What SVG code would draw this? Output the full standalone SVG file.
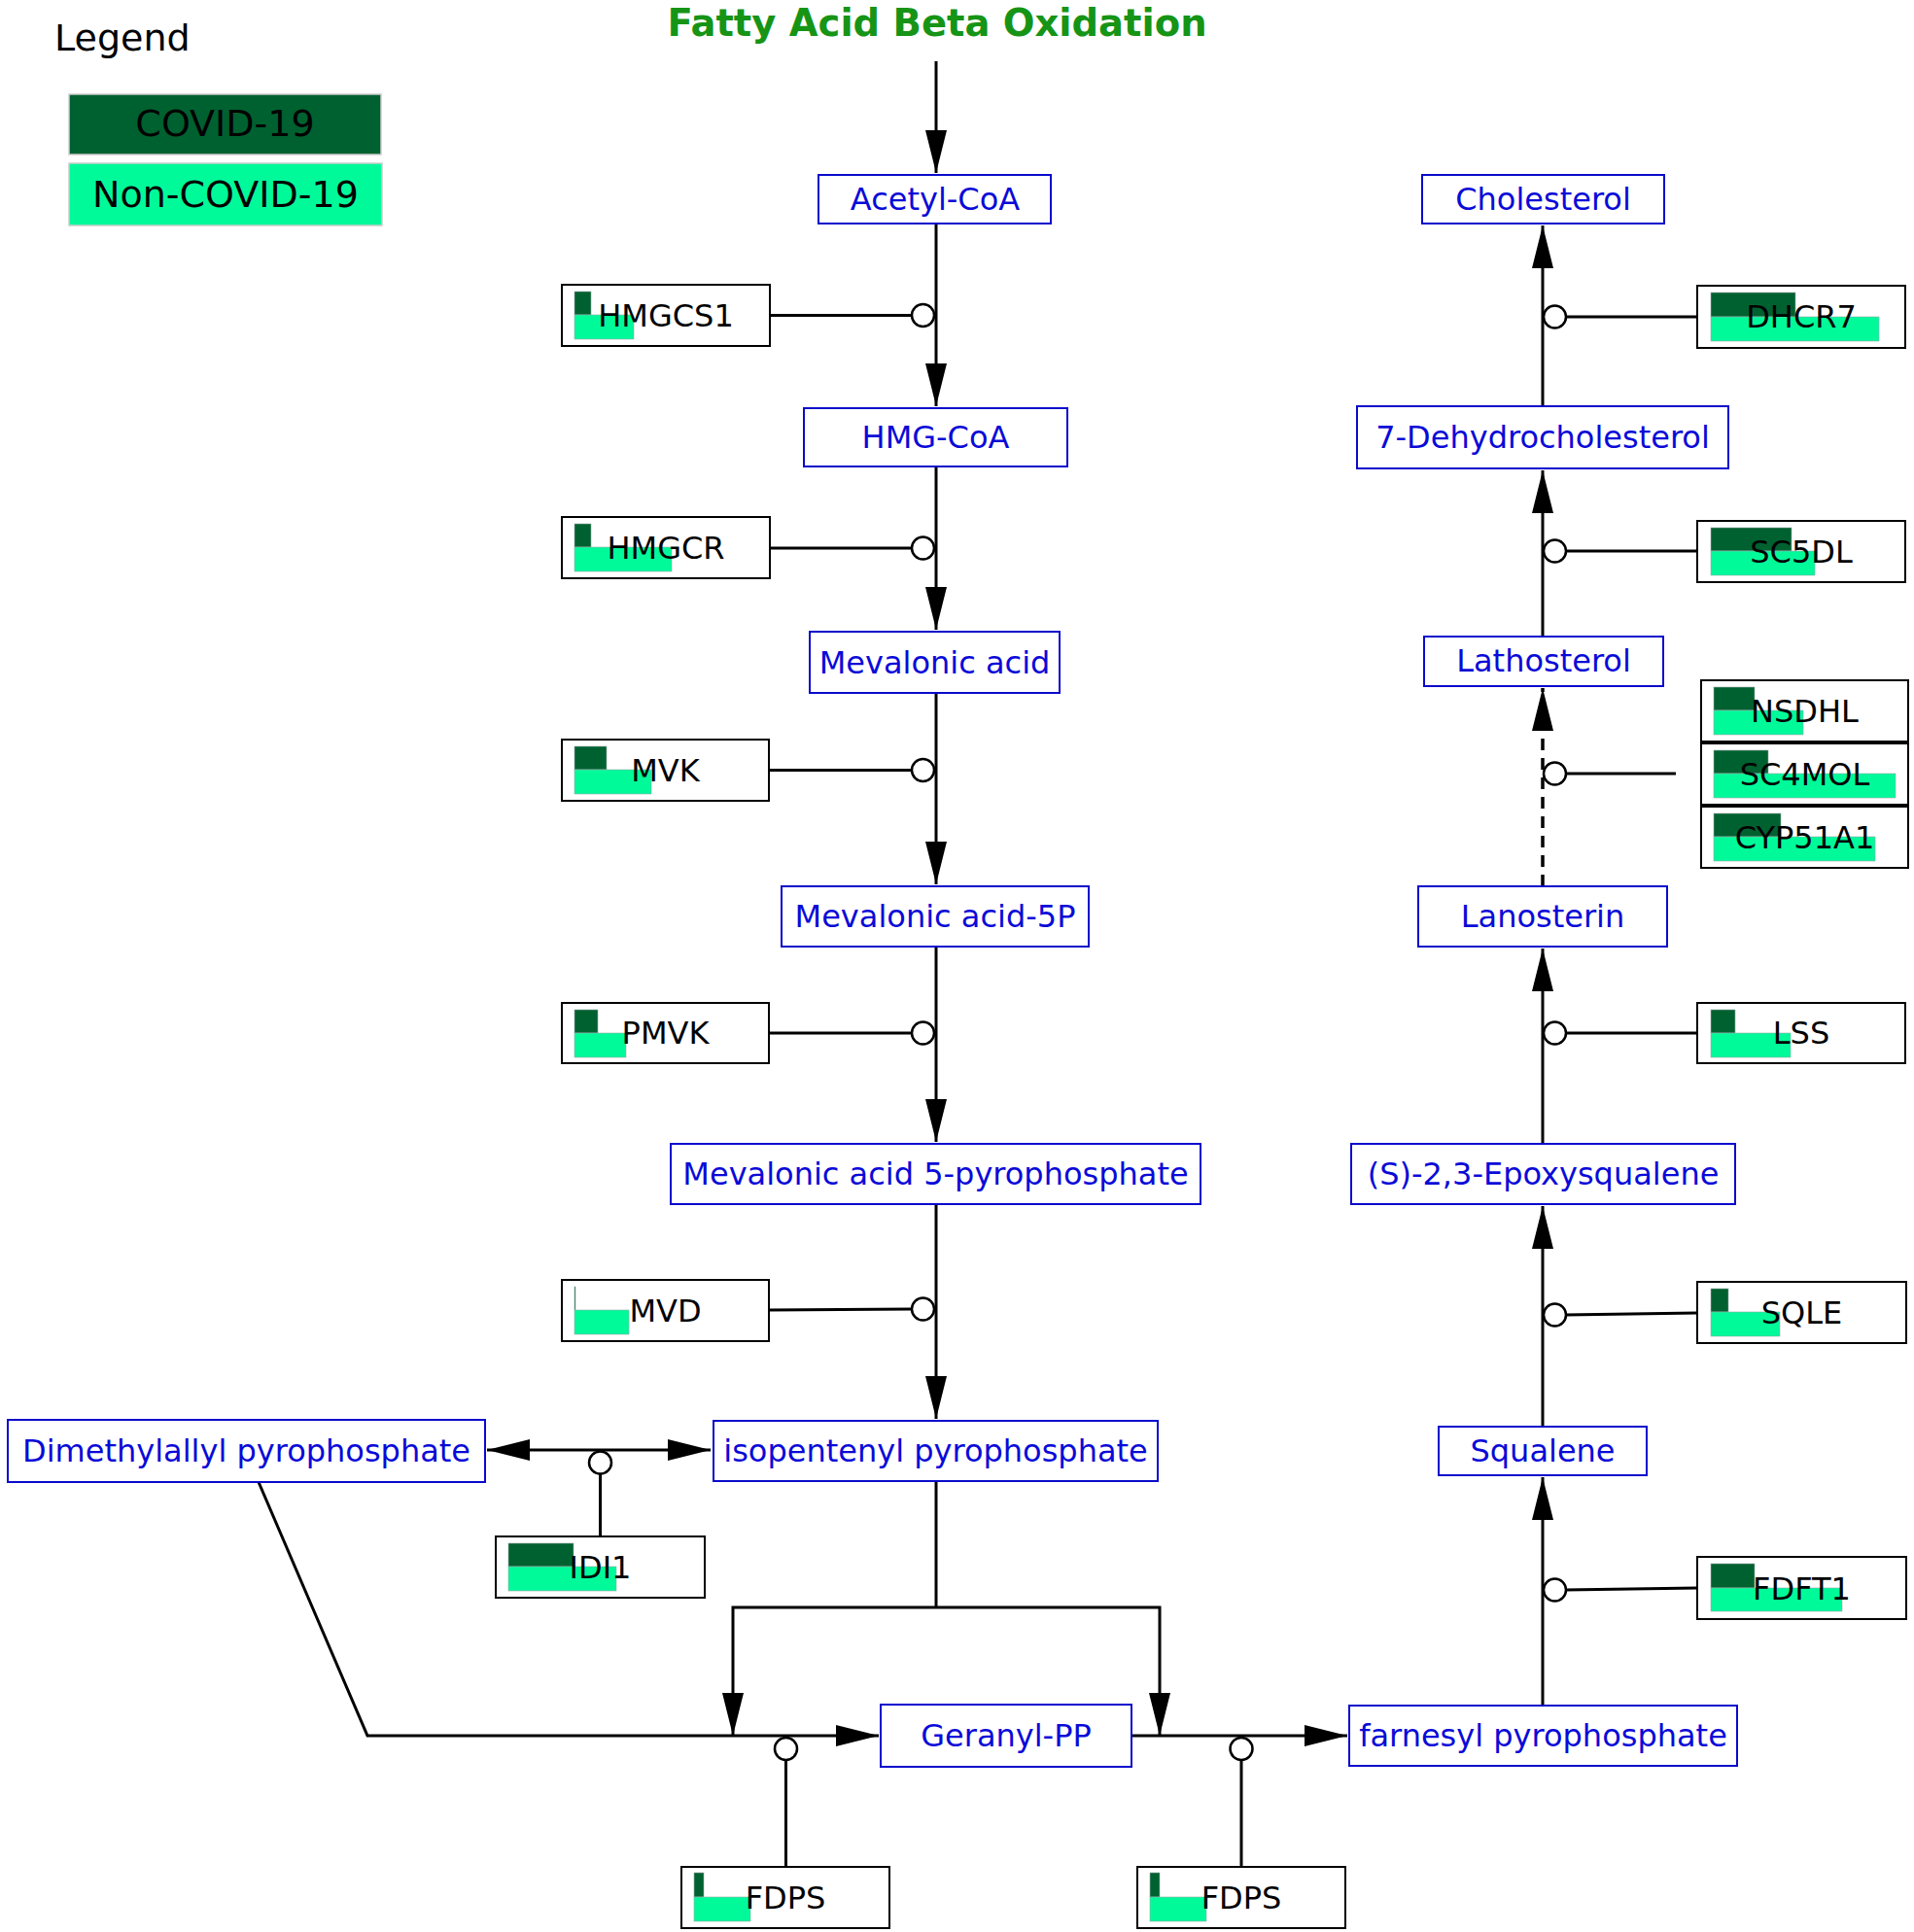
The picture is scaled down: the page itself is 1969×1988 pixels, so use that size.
<svg xmlns="http://www.w3.org/2000/svg" width="1969" height="1988" viewBox="0 0 1969 1988">
<style>
text{font-family:"DejaVu Sans","Liberation Sans",sans-serif}
.title{font-size:38.5px;font-weight:bold;fill:#169416;text-anchor:middle}
.leg{font-size:38px;fill:#000}
.legc{font-size:38px;fill:#000;text-anchor:middle}
.met rect{fill:#fff;stroke:#0a0acc;stroke-width:2}
.met text{font-size:32px;fill:#0a0ad8;text-anchor:middle}
.gene rect.b{fill:#fff;stroke:#000;stroke-width:2}
.gene text{font-size:32px;fill:#000;text-anchor:middle}
.d{fill:#006130;stroke:#9aa;stroke-width:0.6}
.l{fill:#00fa9a;stroke:#9aa;stroke-width:0.6}
.c{fill:none;stroke:#000;stroke-width:3}
.dash{stroke-dasharray:12,8;stroke-width:3.5}
.cat{fill:#fff;stroke:#000;stroke-width:2.5}
</style>
<defs>
<marker id="ah" markerUnits="userSpaceOnUse" markerWidth="44" markerHeight="22" refX="44" refY="11" orient="auto-start-reverse" viewBox="0 0 44 22">
<path d="M0,0 L44,11 L0,22 z" fill="#000"/>
</marker>
</defs>
<rect x="0" y="0" width="1969" height="1988" fill="#fff"/>
<text class="title" x="964" y="37">Fatty Acid Beta Oxidation</text>
<g id="legend">
<text class="leg" x="56" y="52">Legend</text>
<rect x="71" y="97" width="321" height="62" fill="#006130" stroke="#ccc" stroke-width="1.5"/>
<text class="legc" x="231.5" y="140">COVID-19</text>
<rect x="71" y="168" width="322" height="64" fill="#00fa9a" stroke="#ccc" stroke-width="1.5"/>
<text class="legc" x="232" y="213">Non-COVID-19</text>
</g>
<g id="connectors">
<path class="c" d="M963,63 L963,178" marker-end="url(#ah)"/>
<path class="c" d="M963,230 L963,418" marker-end="url(#ah)"/>
<path class="c" d="M963,480 L963,648" marker-end="url(#ah)"/>
<path class="c" d="M963,713 L963,910" marker-end="url(#ah)"/>
<path class="c" d="M963,974 L963,1175" marker-end="url(#ah)"/>
<path class="c" d="M963,1239 L963,1460" marker-end="url(#ah)"/>
<path class="c" d="M963,1524 L963,1654"/>
<path class="c" d="M963,1654 L754,1654 L754,1786" marker-end="url(#ah)"/>
<path class="c" d="M963,1654 L1193,1654 L1193,1786" marker-end="url(#ah)"/>
<path class="c" d="M266,1525 L378,1786 L904,1786" marker-end="url(#ah)"/>
<path class="c" d="M1164,1786 L1386,1786" marker-end="url(#ah)"/>
<path class="c" d="M501,1492 L731,1492" marker-start="url(#ah)" marker-end="url(#ah)"/>
<path class="c" d="M1587,1755 L1587,1520" marker-end="url(#ah)"/>
<path class="c" d="M1587,1468 L1587,1241" marker-end="url(#ah)"/>
<path class="c" d="M1587,1177 L1587,976" marker-end="url(#ah)"/>
<path class="c dash" d="M1587,912 L1587,708" marker-end="url(#ah)"/>
<path class="c" d="M1587,655 L1587,484" marker-end="url(#ah)"/>
<path class="c" d="M1587,418 L1587,232" marker-end="url(#ah)"/>
<path class="c" d="M792,324.5 L938,324.5"/>
<path class="c" d="M792,564 L938,564"/>
<path class="c" d="M791,792.5 L938,792.5"/>
<path class="c" d="M791,1063 L938,1063"/>
<path class="c" d="M791,1348 L938,1347"/>
<path class="c" d="M1610,326 L1746,326"/>
<path class="c" d="M1610,567 L1746,567"/>
<path class="c" d="M1610,796 L1724,796"/>
<path class="c" d="M1610,1063 L1746,1063"/>
<path class="c" d="M1610,1353 L1746,1351"/>
<path class="c" d="M1610,1636 L1746,1634"/>
<path class="c" d="M617.5,1516 L617.5,1581"/>
<path class="c" d="M808.5,1811 L808.5,1921"/>
<path class="c" d="M1277,1811 L1277,1921"/>
<circle class="cat" cx="949.5" cy="324.5" r="11.5"/>
<circle class="cat" cx="949.5" cy="564" r="11.5"/>
<circle class="cat" cx="949.5" cy="792.5" r="11.5"/>
<circle class="cat" cx="949.5" cy="1063" r="11.5"/>
<circle class="cat" cx="949.5" cy="1347" r="11.5"/>
<circle class="cat" cx="1599.5" cy="326" r="11.5"/>
<circle class="cat" cx="1599.5" cy="567" r="11.5"/>
<circle class="cat" cx="1599.5" cy="796" r="11.5"/>
<circle class="cat" cx="1599.5" cy="1063" r="11.5"/>
<circle class="cat" cx="1599.5" cy="1353" r="11.5"/>
<circle class="cat" cx="1599.5" cy="1636" r="11.5"/>
<circle class="cat" cx="617.5" cy="1505" r="11.5"/>
<circle class="cat" cx="808.5" cy="1799.5" r="11.5"/>
<circle class="cat" cx="1277" cy="1799.5" r="11.5"/>
</g>
<g id="m-acetylcoa" class="met"><rect x="842" y="180" width="239" height="50"/><text x="962" y="216">Acetyl-CoA</text></g>
<g id="m-hmgcoa" class="met"><rect x="827" y="420" width="271" height="60"/><text x="962.5" y="461">HMG-CoA</text></g>
<g id="m-mevalonic" class="met"><rect x="833" y="650" width="257" height="63"/><text x="961.5" y="693">Mevalonic acid</text></g>
<g id="m-mev5p" class="met"><rect x="804" y="912" width="316" height="62"/><text x="962" y="954">Mevalonic acid-5P</text></g>
<g id="m-mev5pp" class="met"><rect x="690" y="1177" width="545" height="62"/><text x="962.5" y="1219">Mevalonic acid 5-pyrophosphate</text></g>
<g id="m-ipp" class="met"><rect x="734" y="1462" width="457" height="62"/><text x="962.5" y="1504">isopentenyl pyrophosphate</text></g>
<g id="m-dmapp" class="met"><rect x="8" y="1461" width="491" height="64"/><text x="253.5" y="1504">Dimethylallyl pyrophosphate</text></g>
<g id="m-geranylpp" class="met"><rect x="906" y="1754" width="258" height="64"/><text x="1035" y="1797">Geranyl-PP</text></g>
<g id="m-fpp" class="met"><rect x="1388" y="1755" width="399" height="62"/><text x="1587.5" y="1797">farnesyl pyrophosphate</text></g>
<g id="m-cholesterol" class="met"><rect x="1463" y="180" width="249" height="50"/><text x="1587.5" y="216">Cholesterol</text></g>
<g id="m-7dhc" class="met"><rect x="1396" y="418" width="382" height="64"/><text x="1587" y="461">7-Dehydrocholesterol</text></g>
<g id="m-lathosterol" class="met"><rect x="1465" y="655" width="246" height="51"/><text x="1588" y="691">Lathosterol</text></g>
<g id="m-lanosterin" class="met"><rect x="1459" y="912" width="256" height="62"/><text x="1587" y="954">Lanosterin</text></g>
<g id="m-epoxysqualene" class="met"><rect x="1390" y="1177" width="395" height="62"/><text x="1587.5" y="1219">(S)-2,3-Epoxysqualene</text></g>
<g id="m-squalene" class="met"><rect x="1480" y="1468" width="214" height="50"/><text x="1587" y="1504">Squalene</text></g>
<g id="g-hmgcs1" class="gene"><rect class="b" x="578" y="293" width="214" height="63"/><rect class="d" x="591" y="300" width="17" height="24"/><rect class="l" x="591" y="324" width="61" height="25"/><text x="685" y="336">HMGCS1</text></g>
<g id="g-hmgcr" class="gene"><rect class="b" x="578" y="532" width="214" height="63"/><rect class="d" x="591" y="539" width="17" height="24"/><rect class="l" x="591" y="563" width="100" height="25"/><text x="685" y="575">HMGCR</text></g>
<g id="g-mvk" class="gene"><rect class="b" x="578" y="761" width="213" height="63"/><rect class="d" x="591" y="768" width="33" height="24"/><rect class="l" x="591" y="792" width="79" height="25"/><text x="684.5" y="804">MVK</text></g>
<g id="g-pmvk" class="gene"><rect class="b" x="578" y="1032" width="213" height="62"/><rect class="d" x="591" y="1039" width="24" height="24"/><rect class="l" x="591" y="1063" width="53" height="25"/><text x="684.5" y="1074">PMVK</text></g>
<g id="g-mvd" class="gene"><rect class="b" x="578" y="1317" width="213" height="63"/><rect class="d" x="591" y="1324" width="1" height="24"/><rect class="l" x="591" y="1348" width="56" height="25"/><text x="684.5" y="1360">MVD</text></g>
<g id="g-idi1" class="gene"><rect class="b" x="510" y="1581" width="215" height="63"/><rect class="d" x="523" y="1588" width="67" height="24"/><rect class="l" x="523" y="1612" width="111" height="25"/><text x="617.5" y="1624">IDI1</text></g>
<g id="g-fdps1" class="gene"><rect class="b" x="701" y="1921" width="214" height="63"/><rect class="d" x="714" y="1927" width="10" height="25"/><rect class="l" x="714" y="1952" width="58" height="25"/><text x="808" y="1964">FDPS</text></g>
<g id="g-fdps2" class="gene"><rect class="b" x="1170" y="1921" width="214" height="63"/><rect class="d" x="1183" y="1927" width="10" height="25"/><rect class="l" x="1183" y="1952" width="58" height="25"/><text x="1277" y="1964">FDPS</text></g>
<g id="g-dhcr7" class="gene"><rect class="b" x="1746" y="294" width="214" height="64"/><rect class="d" x="1760" y="301" width="87" height="25"/><rect class="l" x="1760" y="326" width="173" height="25"/><text x="1853" y="337">DHCR7</text></g>
<g id="g-sc5dl" class="gene"><rect class="b" x="1746" y="536" width="214" height="63"/><rect class="d" x="1760" y="543" width="83" height="24"/><rect class="l" x="1760" y="567" width="107" height="25"/><text x="1853" y="579">SC5DL</text></g>
<g id="g-nsdhl" class="gene"><rect class="b" x="1750" y="700" width="213" height="63"/><rect class="d" x="1763" y="707" width="42" height="24"/><rect class="l" x="1763" y="731" width="92" height="25"/><text x="1856.5" y="743">NSDHL</text></g>
<g id="g-sc4mol" class="gene"><rect class="b" x="1750" y="765" width="213" height="63"/><rect class="d" x="1763" y="772" width="56" height="24"/><rect class="l" x="1763" y="796" width="187" height="25"/><text x="1856.5" y="808">SC4MOL</text></g>
<g id="g-cyp51a1" class="gene"><rect class="b" x="1750" y="830" width="213" height="63"/><rect class="d" x="1763" y="837" width="69" height="24"/><rect class="l" x="1763" y="861" width="166" height="25"/><text x="1856.5" y="873">CYP51A1</text></g>
<g id="g-lss" class="gene"><rect class="b" x="1746" y="1032" width="214" height="62"/><rect class="d" x="1760" y="1039" width="25" height="24"/><rect class="l" x="1760" y="1063" width="82" height="25"/><text x="1853" y="1074">LSS</text></g>
<g id="g-sqle" class="gene"><rect class="b" x="1746" y="1319" width="215" height="63"/><rect class="d" x="1760" y="1326" width="18" height="24"/><rect class="l" x="1760" y="1350" width="71" height="25"/><text x="1853.5" y="1362">SQLE</text></g>
<g id="g-fdft1" class="gene"><rect class="b" x="1746" y="1602" width="215" height="64"/><rect class="d" x="1760" y="1609" width="45" height="25"/><rect class="l" x="1760" y="1634" width="135" height="24"/><text x="1853.5" y="1646">FDFT1</text></g>
</svg>
